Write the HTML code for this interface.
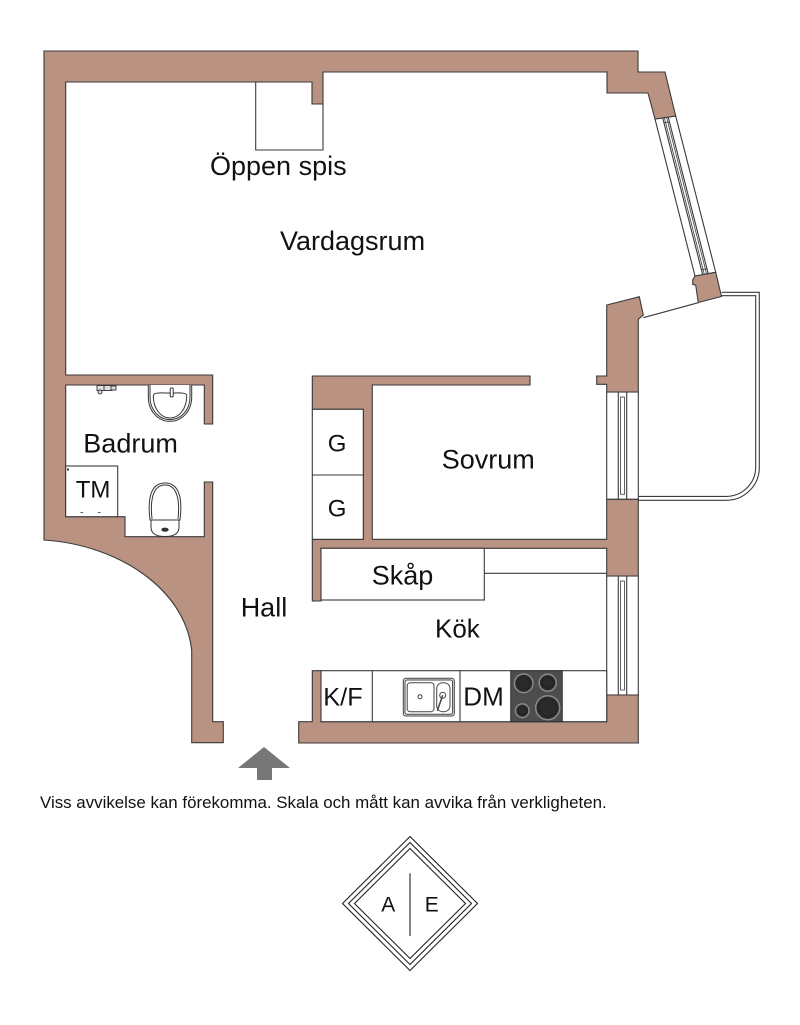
<!DOCTYPE html>
<html><head><meta charset="utf-8"><style>
html,body{margin:0;padding:0;background:#fff;}
svg{display:block;}
text{font-family:"Liberation Sans",Arial,sans-serif;fill:#111;}
</style></head><body>
<svg width="800" height="1025" viewBox="0 0 800 1025" xmlns="http://www.w3.org/2000/svg">
<rect width="800" height="1025" fill="#fff"/>
<g stroke="#3a3a3a" stroke-width="1.1" fill="#fff">
<!-- diagonal window -->
<polygon points="655,119 675.7,116 715.7,272.3 695,276"/>
<line x1="662.7" y1="117.9" x2="702.7" y2="274.6"/>
<line x1="664.3" y1="117.7" x2="704.3" y2="274.3" stroke-width="0.8"/>
<line x1="666.6" y1="117.3" x2="706.6" y2="273.9" stroke-width="0.8"/>
<line x1="668.2" y1="117.1" x2="708.2" y2="273.6"/>
<line x1="663.9" y1="122.7" x2="669.4" y2="121.9" stroke-width="0.8"/>
<line x1="701.4" y1="269.8" x2="707" y2="268.8" stroke-width="0.8"/>
<!-- vertical windows -->
<rect x="606.7" y="392" width="31.6" height="107.3"/>
<rect x="618.3" y="392" width="8.4" height="107.3"/>
<rect x="620.6" y="397" width="3.8" height="97.3" stroke-width="0.8"/>
<rect x="606.7" y="576" width="31.6" height="119"/>
<rect x="618.3" y="576" width="8.4" height="119"/>
<rect x="620.6" y="581" width="3.8" height="109" stroke-width="0.8"/>
</g>
<!-- balcony -->
<g stroke="#3a3a3a" stroke-width="1.1" fill="none">
<path d="M721.7,292.3 H759.3 V467 A33,33 0 0 1 726.3,500.3 H638.3"/>
<path d="M721,295.7 H755.7 V467 A29.4,29.4 0 0 1 726.3,496.4 H638.3"/>
<line x1="643.3" y1="317.7" x2="698.3" y2="302.7"/>
</g>
<!-- walls -->
<g fill="#ba9282" stroke="#3a3a3a" stroke-width="1.1" stroke-linejoin="miter">
<path d="M44,51 L638,51 L638,72 L665,72 L675.7,116 L655,119 L648,93 L607,93 L607,72 L323,72 L323,104 L312,104 L312,82 L65.7,82 L65.7,375 L212.7,375 L212.7,424 L204.3,424 L204.3,385 L65.7,385 L65.7,516.7 L125,516.7 L125,536.7 L204.3,536.7 L204.3,482 L212.7,482 L212.7,721.7 L223.3,721.7 L223.3,742.7 L191.7,742.7 L191.7,650 C185,590 120,545 44,540 Z"/>
<path d="M298.7,721.7 L312.3,721.7 L312.3,670.7 L321,670.7 L321,721.7 L606.7,721.7 L606.7,695 L638.3,695 L638.3,743 L298.7,743 Z"/>
<path d="M312.3,376 L530,376 L530,385 L372.3,385 L372.3,539.3 L606.7,539.3 L606.7,499.3 L638.3,499.3 L638.3,576 L606.7,576 L606.7,548.3 L321,548.3 L321,601 L312.3,601 L312.3,539.3 L363.3,539.3 L363.3,409.3 L312.3,409.3 Z"/>
<path d="M606.7,305 L639.3,296.7 L643.3,315 L638.3,319.3 L638.3,392 L606.7,392 L606.7,384.3 L596.7,384.3 L596.7,376 L606.7,376 Z"/>
<path d="M695,276 L715.7,272.3 L721.5,296.5 L698.3,302.5 L695.7,285 L692.7,284.5 L692.7,280 Z"/>
</g>
<!-- interior lines -->
<g stroke="#3a3a3a" stroke-width="1.1" fill="none">
<path d="M255.7,82 V150 H323 V104"/>
<rect x="312.3" y="409.3" width="51" height="130" fill="#fff"/>
<line x1="312.3" y1="475" x2="363.3" y2="475"/>
<rect x="321" y="548.3" width="163.3" height="51.7" fill="#fff"/>
<line x1="484.3" y1="573.3" x2="606.7" y2="573.3"/>
<rect x="321" y="670.7" width="285.7" height="51" fill="#fff"/>
<line x1="372.3" y1="670.7" x2="372.3" y2="721.7"/>
<line x1="460" y1="670.7" x2="460" y2="721.7"/>
<rect x="65.7" y="466" width="52" height="50.7" fill="#fff"/>
</g>
<!-- stove -->
<rect x="510.7" y="670.7" width="51.6" height="51" fill="#4d4d4d" stroke="#333" stroke-width="1"/>
<g stroke="#8a8a8a" stroke-width="1.5" fill="#2a2a2a">
<circle cx="523.7" cy="683.3" r="9.3"/>
<circle cx="547.7" cy="682.7" r="8.5"/>
<circle cx="522.3" cy="710.7" r="6.8"/>
<circle cx="547.7" cy="707.7" r="12"/>
</g>
<g stroke="#222" stroke-width="1" fill="none">
<circle cx="523.7" cy="683.3" r="6"/>
<circle cx="547.7" cy="682.7" r="5.5"/>
<circle cx="522.3" cy="710.7" r="4"/>
<circle cx="547.7" cy="707.7" r="8.5"/>
</g>
<!-- kitchen sink -->
<g stroke="#444" stroke-width="1" fill="#fff">
<rect x="403.3" y="678.3" width="51" height="37.7" rx="2.5" fill="#e8e8e8"/>
<rect x="405" y="680" width="47.6" height="34.3" rx="2"/>
<rect x="407.2" y="682.7" width="26.8" height="29" rx="3"/>
<rect x="436.7" y="682.7" width="13.3" height="29" rx="6"/>
<circle cx="420" cy="696.7" r="2"/>
<circle cx="442.7" cy="695.3" r="3"/>
<line x1="442.7" y1="695.3" x2="437.3" y2="710.7" stroke-width="1.5"/>
</g>
<!-- bathroom sink -->
<g stroke="#333" stroke-width="1" fill="#fff">
<path d="M148.3,385 V397 C148.3,411 158,421.3 170,421.3 C182,421.3 191.7,411 191.7,397 V385"/>
<path d="M150,385 V397 C150,410 159,419.6 170,419.6 C181,419.6 190,410 190,397 V385" fill="none"/>
<path d="M153.3,396 C153.3,392 160,393 170,393 C180,393 186.7,392 186.7,396 C186.7,409 179,418 170,418 C161,418 153.3,409 153.3,396 Z"/>
<rect x="170.2" y="388" width="3" height="9" rx="1.2"/>
</g>
<!-- shower mixer -->
<g stroke="#333" stroke-width="0.9" fill="#ddd">
<rect x="97" y="385.5" width="8" height="5"/>
<rect x="104" y="385.5" width="8" height="5"/>
<circle cx="100" cy="392" r="2"/>
<rect x="111" y="386" width="5" height="4"/>
</g>
<!-- toilet -->
<g stroke="#333" stroke-width="1" fill="#fff">
<path d="M150,520 C147.5,500 150,483 165,483 C180,483 182.5,500 180,520 Z"/>
<path d="M152,519 C150,501 152.5,485 165,485 C177.5,485 180,501 178,519" fill="none"/>
<path d="M151,520 H179 V527 Q179,536.5 165,536.5 Q151,536.5 151,527 Z"/>
<ellipse cx="165" cy="529.7" rx="3.2" ry="1.6" fill="#333"/>
</g>
<rect x="67" y="468.5" width="2" height="2" fill="#333"/>
<rect x="80.5" y="512" width="2.5" height="1" fill="#555"/>
<rect x="98" y="512" width="2.5" height="1" fill="#555"/>
<!-- labels -->
<text x="210" y="175" font-size="27">Öppen spis</text>
<text x="280" y="250" font-size="27">Vardagsrum</text>
<text x="83.3" y="452.7" font-size="27">Badrum</text>
<text x="75.7" y="497.3" font-size="24">TM</text>
<text x="327.7" y="451.7" font-size="24">G</text>
<text x="327.7" y="516.7" font-size="24">G</text>
<text x="441.7" y="468.3" font-size="27">Sovrum</text>
<text x="371.7" y="584.3" font-size="27">Skåp</text>
<text x="240.7" y="616.7" font-size="27">Hall</text>
<text x="435" y="637.7" font-size="26">Kök</text>
<text x="323.3" y="705.7" font-size="25.3">K/F</text>
<text x="463.3" y="705.7" font-size="26">DM</text>
<!-- entrance arrow -->
<polygon points="264,747 290,768 272,768 272,780 257,780 257,768 238,768" fill="#777"/>
<text x="40" y="808" font-size="16.9">Viss avvikelse kan förekomma. Skala och mått kan avvika från verkligheten.</text>
<!-- logo -->
<g fill="none" stroke="#222" stroke-width="1.1">
<polygon points="410,836.5 477.5,903.5 410,970.5 342.5,903.5"/>
<polygon points="410,842.5 471.5,903.5 410,964.5 348.5,903.5"/>
<polygon points="410,848.5 465.5,903.5 410,958.5 354.5,903.5"/>
<line x1="410" y1="873.3" x2="410" y2="936"/>
</g>
<text x="388.3" y="911.7" font-size="21" text-anchor="middle" fill="#222">A</text>
<text x="431.7" y="911.7" font-size="21" text-anchor="middle" fill="#222">E</text>
</svg>
</body></html>
